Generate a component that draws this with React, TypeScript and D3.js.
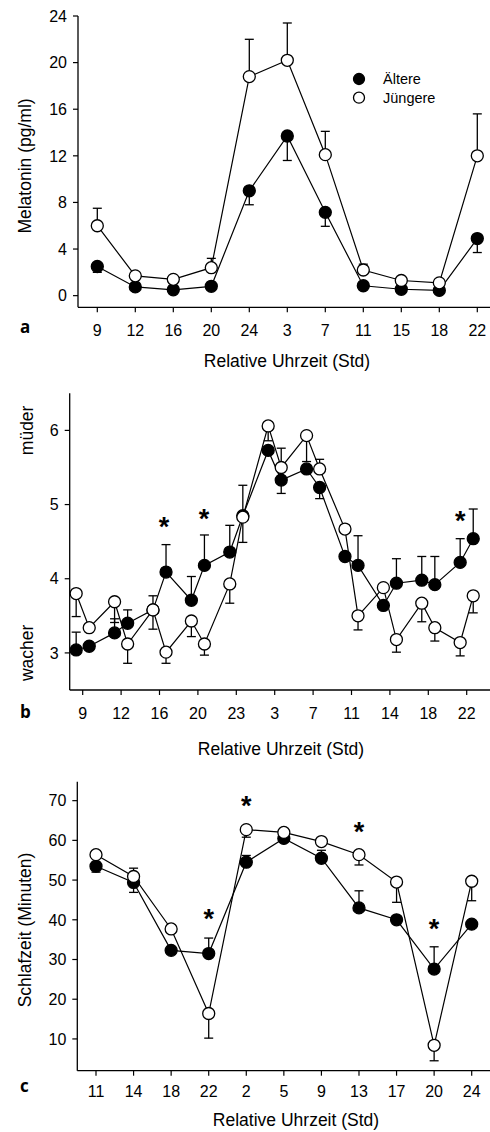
import React from "react";
import { scaleLinear, line as d3line, range } from "d3";

const W = 490;
const H = 1132;
const FONT = "'Liberation Sans', Arial, sans-serif";
const LETTER_FONT = "'Open Sans', 'DejaVu Sans', sans-serif";

// ---- panel a: melatonin ----
const aLabels = ["9", "12", "16", "20", "24", "3", "7", "11", "15", "18", "22"];
const aOld = [2.5, 0.75, 0.5, 0.8, 9.0, 13.7, 7.15, 0.85, 0.55, 0.45, 4.9];
const aOldErr = [-0.5, 0, 0, 0, -1.2, -2.1, -1.2, 0, 0, 0, -1.2];
const aYoung = [6.0, 1.7, 1.4, 2.4, 18.8, 20.2, 12.1, 2.2, 1.3, 1.1, 12.0];
const aYoungErr = [1.5, 0, 0, 0.8, 3.2, 3.2, 2.0, 0.5, 0, 0, 3.6];
const aYTicks = [0, 4, 8, 12, 16, 20, 24];

// ---- panel b: sleepiness ----
const bLabels = ["9", "12", "16", "20", "23", "3", "7", "11", "14", "18", "22"];
// x positions in tick units (tick i = label i)
const bPos = [
  -0.17, 0.17, 0.83, 1.17, 1.83, 2.17, 2.83, 3.17, 3.83, 4.17, 4.83,
  5.17, 5.83, 6.17, 6.83, 7.17, 7.83, 8.17, 8.83, 9.17, 9.83, 10.17,
];
const bOld = [
  3.04, 3.09, 3.27, 3.4, 3.58, 4.09, 3.71, 4.18, 4.36, 4.85, 5.73,
  5.33, 5.48, 5.23, 4.3, 4.18, 3.64, 3.94, 3.98, 3.92, 4.22, 4.54,
];
const bOldErr = [
  0.24, 0, 0.19, 0.18, 0.19, 0.37, 0.32, 0.41, 0.36, 0.41, 0,
  -0.18, 0, -0.15, 0, 0.4, 0, 0.33, 0.32, 0.38, 0.32, 0.4,
];
const bYoung = [
  3.8, 3.34, 3.69, 3.12, 3.58, 3.01, 3.43, 3.12, 3.93, 4.83, 6.06,
  5.5, 5.93, 5.48, 4.67, 3.5, 3.88, 3.18, 3.67, 3.34, 3.14, 3.77,
];
const bYoungErr = [
  -0.31, 0, -0.28, -0.26, -0.26, -0.15, -0.21, -0.15, -0.26, -0.34, -0.2,
  0.26, -0.35, 0.13, 0, -0.19, 0, -0.17, -0.25, -0.18, -0.18, -0.23,
];
const bYTicks = [3, 4, 5, 6];
const bStarPos = [2.12, 3.16, 9.83];
const bStarVal = [4.76, 4.87, 4.84];

// ---- panel c: sleep time ----
const cLabels = ["11", "14", "18", "22", "2", "5", "9", "13", "17", "20", "24"];
const cOld = [53.5, 49.4, 32.3, 31.5, 54.5, 60.5, 55.5, 43.0, 40.0, 27.6, 38.9];
const cOldErr = [-1.5, -2.5, 0, 3.9, 1.7, 0, 2.0, 4.3, 0, 5.6, 0];
const cYoung = [56.4, 50.9, 37.7, 16.4, 62.7, 62.0, 59.7, 56.4, 49.5, 8.4, 49.7];
const cYoungErr = [0, 2.1, 0, -6.2, -1.9, 0, 0, -2.6, -5.1, -3.9, -4.9];
const cYTicks = [10, 20, 30, 40, 50, 60, 70];
const cStarPos = [3, 4, 7, 9];
const cStarVal = [41.3, 69.8, 63.3, 38.8];

interface Series {
  pos: number[];
  vals: number[];
  errs: number[];
  filled: boolean;
}

interface PanelProps {
  letter: string;
  letterY: number;
  x: (v: number) => number;
  y: (v: number) => number;
  axisLeft: number;
  axisBottom: number;
  axisTop: number;
  labels: string[];
  yTicks: number[];
  tickBaseline: number;
  titleX: number;
  titleBaseline: number;
  yTitle: React.ReactNode;
  series: Series[];
  starPos?: number[];
  starVal?: number[];
}

const R = 6;
const CAP = 4.5;

function Panel(p: PanelProps) {
  return (
    <g>
      {/* axes */}
      <line x1={p.axisLeft} x2={p.axisLeft} y1={p.axisTop} y2={p.axisBottom} stroke="#000" strokeWidth={1.3} />
      <line x1={p.axisLeft} x2={W} y1={p.axisBottom} y2={p.axisBottom} stroke="#000" strokeWidth={1.3} />
      {p.yTicks.map((t) => (
        <g key={"y" + t}>
          <line x1={p.axisLeft - 5} x2={p.axisLeft} y1={p.y(t)} y2={p.y(t)} stroke="#000" strokeWidth={1.2} />
          <text
            x={p.axisLeft - 11}
            y={p.y(t)}
            dy="0.36em"
            textAnchor="end"
            fontFamily={FONT}
            fontSize={16}
          >
            {t}
          </text>
        </g>
      ))}
      {p.labels.map((l, i) => (
        <g key={"x" + i}>
          <line x1={p.x(i)} x2={p.x(i)} y1={p.axisBottom} y2={p.axisBottom + 5} stroke="#000" strokeWidth={1.2} />
          <text x={p.x(i)} y={p.tickBaseline} textAnchor="middle" fontFamily={FONT} fontSize={16}>
            {l}
          </text>
        </g>
      ))}
      <text x={p.titleX} y={p.titleBaseline} textAnchor="middle" fontFamily={FONT} fontSize={17.5}>
        Relative Uhrzeit (Std)
      </text>
      {p.yTitle}
      <text x={20} y={p.letterY} fontFamily={LETTER_FONT} fontWeight={700} fontSize={17}>
        {p.letter}
      </text>

      {/* series: line, error bars, markers */}
      {p.series.map((s, si) => {
        const path = d3line<number>()
          .x((_, i) => p.x(s.pos[i]))
          .y((v) => p.y(v))(s.vals);
        return (
          <g key={si}>
            <path d={path ?? ""} fill="none" stroke="#000" strokeWidth={1.2} />
            {s.vals.map((v, i) => {
              const e = s.errs[i];
              if (!e) return null;
              const cx = p.x(s.pos[i]);
              const yEnd = p.y(v + e);
              return (
                <g key={"e" + i} stroke="#000" strokeWidth={1.3}>
                  <line x1={cx} x2={cx} y1={p.y(v)} y2={yEnd} />
                  <line x1={cx - CAP} x2={cx + CAP} y1={yEnd} y2={yEnd} />
                </g>
              );
            })}
            {s.vals.map((v, i) => (
              <circle
                key={"c" + i}
                cx={p.x(s.pos[i])}
                cy={p.y(v)}
                r={R}
                fill={s.filled ? "#000" : "#fff"}
                stroke="#000"
                strokeWidth={1.3}
              />
            ))}
          </g>
        );
      })}

      {(p.starPos ?? []).map((sp, i) => (
        <text
          key={"s" + i}
          x={p.x(sp)}
          y={p.y(p.starVal![i])}
          dy="0.5em"
          textAnchor="middle"
          fontFamily={FONT}
          fontWeight={700}
          fontSize={27}
        >
          *
        </text>
      ))}
    </g>
  );
}

export default function App() {
  const aIdx = range(aLabels.length);
  const cIdx = range(cLabels.length);

  const ax = scaleLinear().domain([0, 10]).range([97.3, 477.3]);
  const ay = scaleLinear().domain([-1, 24]).range([307.3, 16]);
  const bx = scaleLinear().domain([0, 10]).range([82.7, 466.7]);
  const by = scaleLinear().domain([2.5, 6.5]).range([690, 393.3]);
  const cx = scaleLinear().domain([0, 10]).range([96, 471.7]);
  const cy = scaleLinear().domain([2, 75]).range([1070.7, 780.8]);

  return (
    <div style={{ position: "absolute", left: 0, top: 0 }}>
      <svg width={W} height={H} viewBox={`0 0 ${W} ${H}`} style={{ display: "block", background: "#fff" }}>
        <Panel
          letter="a"
          letterY={333}
          x={ax}
          y={ay}
          axisLeft={78}
          axisBottom={307.3}
          axisTop={16}
          labels={aLabels}
          yTicks={aYTicks}
          tickBaseline={335.7}
          titleX={287}
          titleBaseline={367}
          yTitle={
            <text
              transform="translate(31,166) rotate(-90)"
              textAnchor="middle"
              fontFamily={FONT}
              fontSize={17.5}
            >
              Melatonin (pg/ml)
            </text>
          }
          series={[
            { pos: aIdx, vals: aOld, errs: aOldErr, filled: true },
            { pos: aIdx, vals: aYoung, errs: aYoungErr, filled: false },
          ]}
        />
        {/* legend */}
        <circle cx={359} cy={79} r={5.5} fill="#000" stroke="#000" strokeWidth={1.3} />
        <circle cx={359} cy={97.7} r={5.5} fill="#fff" stroke="#000" strokeWidth={1.3} />
        <text x={383} y={79} dy="0.36em" fontFamily={FONT} fontSize={14.5}>
          Ältere
        </text>
        <text x={383} y={97.7} dy="0.36em" fontFamily={FONT} fontSize={14.5}>
          Jüngere
        </text>

        <Panel
          letter="b"
          letterY={718}
          x={bx}
          y={by}
          axisLeft={69.7}
          axisBottom={690}
          axisTop={393.3}
          labels={bLabels}
          yTicks={bYTicks}
          tickBaseline={719}
          titleX={281}
          titleBaseline={755}
          yTitle={
            <g fontFamily={FONT} fontSize={17.5} textAnchor="middle">
              <text transform={`translate(33,${by(6)}) rotate(-90)`}>müder</text>
              <text transform={`translate(33,${by(3)}) rotate(-90)`}>wacher</text>
            </g>
          }
          series={[
            { pos: bPos, vals: bOld, errs: bOldErr, filled: true },
            { pos: bPos, vals: bYoung, errs: bYoungErr, filled: false },
          ]}
          starPos={bStarPos}
          starVal={bStarVal}
        />

        <Panel
          letter="c"
          letterY={1092}
          x={cx}
          y={cy}
          axisLeft={77.3}
          axisBottom={1070.7}
          axisTop={781.7}
          labels={cLabels}
          yTicks={cYTicks}
          tickBaseline={1097.3}
          titleX={296}
          titleBaseline={1126}
          yTitle={
            <text
              transform="translate(31,930) rotate(-90)"
              textAnchor="middle"
              fontFamily={FONT}
              fontSize={17.5}
            >
              Schlafzeit (Minuten)
            </text>
          }
          series={[
            { pos: cIdx, vals: cOld, errs: cOldErr, filled: true },
            { pos: cIdx, vals: cYoung, errs: cYoungErr, filled: false },
          ]}
          starPos={cStarPos}
          starVal={cStarVal}
        />
      </svg>
    </div>
  );
}
